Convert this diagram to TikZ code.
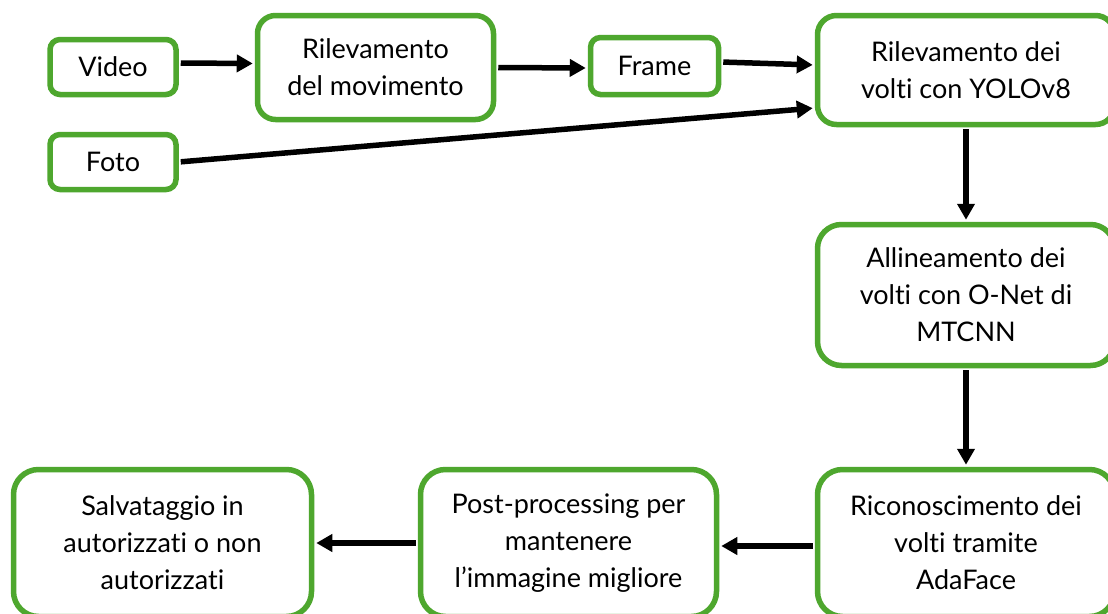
\documentclass[tikz,border=0pt]{standalone}
\usepackage{fontspec}
\setmainfont{Lato}[Ligatures=NoCommon]
\usetikzlibrary{arrows.meta}
\definecolor{boxgreen}{HTML}{4EA72E}
\tikzset{
  stage/.style={draw=boxgreen, line width=5.5pt, fill=white, rectangle,
    align=center, inner sep=0pt, font=\fontsize{27}{37}\selectfont},
  flow/.style={line width=5.5pt, -{Triangle[length=16pt,width=17pt]}, shorten >=2pt, shorten <=2pt}
}
\begin{document}
\begin{tikzpicture}[x=1pt,y=-1pt]
\useasboundingbox (0,0) rectangle (1108,613);
\clip (0,0) rectangle (1108,613);
\fill[white] (0,0) rectangle (1108,613);

% input sources
\node[stage, minimum width=126pt, minimum height=55pt, rounded corners=10pt] (video) at (113,67) {Video};
\node[stage, minimum width=126pt, minimum height=55pt, rounded corners=10pt] (foto) at (113,162) {Foto};
\node[stage, minimum width=236pt, minimum height=104pt, rounded corners=18pt] (mov) at (375.5,67.5) {Rilevamento\\del movimento};
\node[stage, minimum width=128pt, minimum height=57pt, rounded corners=10pt] (frame) at (654.5,66) {Frame};

% face pipeline
\node[stage, minimum width=297pt, minimum height=109pt, rounded corners=19pt] (yolo) at (966,70) {Rilevamento dei\\volti con YOLOv8};
\node[stage, minimum width=297pt, minimum height=141pt, rounded corners=24pt] (align) at (966,295) {Allineamento dei\\volti con O-Net di\\MTCNN};
\node[stage, minimum width=297pt, minimum height=147pt, rounded corners=25pt] (recog) at (966,543) {Riconoscimento dei\\volti tramite\\AdaFace};
\node[stage, minimum width=296pt, minimum height=147pt, rounded corners=25pt] (post) at (568.5,543) {Post-processing per\\mantenere\\l’immagine migliore};
\node[stage, minimum width=298pt, minimum height=147pt, rounded corners=25pt] (save) at (162.5,543) {Salvataggio in\\autorizzati o non\\autorizzati};

% connectors
\draw[flow] ([yshift=4pt]video.east) -- ([yshift=4pt]mov.west);
\draw[flow] ([yshift=0pt]mov.east) -- ([yshift=-2pt]frame.west);
\draw[flow] ([yshift=4pt]frame.east) -- ([yshift=5pt]yolo.west);
\draw[flow] (foto.east) -- ([yshift=-38pt]yolo.west);
\draw[flow] (yolo.south) -- (align.north);
\draw[flow] (align.south) -- (recog.north);
\draw[flow] ([yshift=-3pt]recog.west) -- ([yshift=-3pt]post.east);
\draw[flow] (post.west) -- (save.east);
\end{tikzpicture}
\end{document}
